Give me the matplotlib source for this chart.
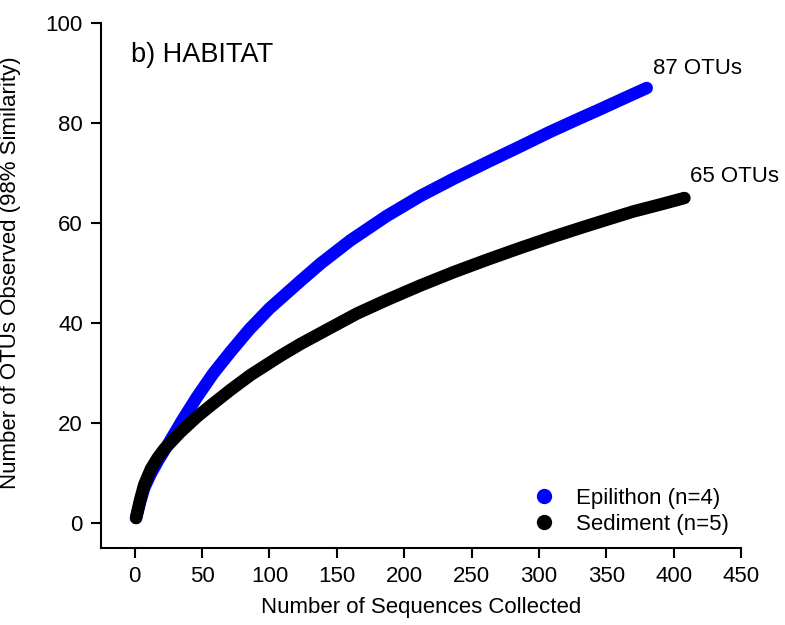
import numpy as np
import matplotlib
matplotlib.use("Agg")
import matplotlib.pyplot as plt
from matplotlib.lines import Line2D

plt.rcParams['font.family'] = ['Liberation Sans', 'DejaVu Sans']

# rarefaction curves (sequences vs OTUs observed)
epi_seq = [1, 4, 7, 12, 18, 24, 35, 46, 58, 71, 85, 100, 123, 138, 160, 187, 212, 237, 262, 286, 308, 330, 345, 362, 380]
epi_otu = [1, 4.2, 7.0, 9.9, 12.8, 15.4, 20.4, 25.1, 29.8, 34.2, 38.7, 42.9, 48.4, 51.9, 56.5, 61.4, 65.4, 68.9, 72.2, 75.3, 78.2, 80.9, 82.7, 84.8, 87]

sed_seq = [1, 4, 7, 12, 17, 22, 34, 46, 56, 71, 86, 108, 123, 145, 165, 187, 212, 237, 262, 286, 310, 333, 352, 370, 390, 408]
sed_otu = [1, 4.6, 7.6, 10.8, 13.0, 14.8, 18.2, 21.2, 23.4, 26.6, 29.6, 33.4, 35.8, 39.0, 41.9, 44.6, 47.5, 50.2, 52.7, 55.0, 57.2, 59.2, 60.8, 62.3, 63.7, 65]

labels = ['Epilithon (n=4)', 'Sediment (n=5)']
colors = ['#0000ff', 'black']
xticks = [0, 50, 100, 150, 200, 250, 300, 350, 400, 450]
yticks = [0, 20, 40, 60, 80, 100]

fig = plt.figure(figsize=(7.85, 6.25), dpi=100)
ax = fig.add_axes([0.1287, 0.1232, 0.944 - 0.1287, 0.9632 - 0.1232])

ax.plot(epi_seq, epi_otu, color=colors[0], lw=9, solid_capstyle='round', solid_joinstyle='round')
ax.plot(sed_seq, sed_otu, color=colors[1], lw=9, solid_capstyle='round', solid_joinstyle='round')

ax.text(epi_seq[-1] + 4.5, epi_otu[-1] + 4, '%d OTUs' % epi_otu[-1], fontsize=16, va='center')
ax.text(sed_seq[-1] + 4, sed_otu[-1] + 4.3, '%d OTUs' % sed_otu[-1], fontsize=16, va='center')
ax.text(-3, 93.6, 'b) HABITAT', fontsize=19.5, va='center')

ax.set_xlim(-25, 450)
ax.set_ylim(-5, 100)
ax.set_xticks(xticks)
ax.set_yticks(yticks)
ax.spines['top'].set_visible(False)
ax.spines['right'].set_visible(False)
for s in ['left', 'bottom']:
    ax.spines[s].set_linewidth(1.5)
ax.tick_params(axis='both', which='major', length=7, width=1.5, labelsize=16, direction='out')
ax.tick_params(axis='x', pad=6)
ax.tick_params(axis='y', pad=6)

ax.set_xlabel('Number of Sequences Collected', fontsize=16)
ax.set_ylabel('Number of OTUs Observed (98% Similarity)', fontsize=16)
ax.xaxis.set_label_coords(0.5, -0.094)
ax.yaxis.set_label_coords(-0.125, 0.524)

handles = [Line2D([], [], ls='', marker='o', ms=10, color=c) for c in colors]
ax.legend(handles, labels, loc='lower right', bbox_to_anchor=(1.002, 0.0), frameon=False,
          fontsize=16, handlelength=1.0, handletextpad=0.93, labelspacing=0.22, borderaxespad=0.2)

fig.savefig('out.png', dpi=100)
